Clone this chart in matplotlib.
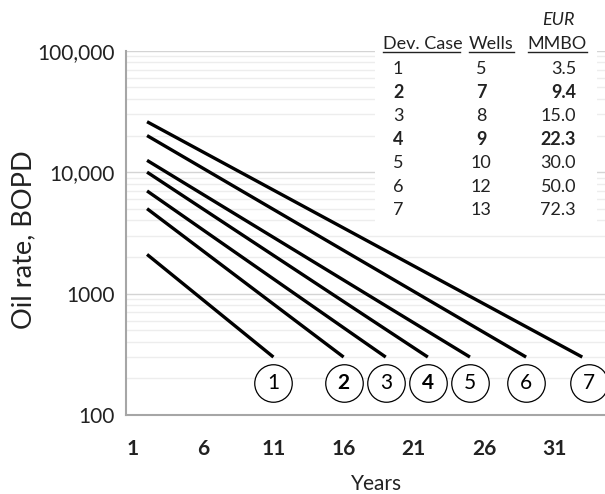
import matplotlib
matplotlib.use("Agg")
import matplotlib.pyplot as plt
from matplotlib.ticker import FixedLocator, NullFormatter, LogLocator
from matplotlib.patches import Rectangle

plt.rcParams['font.family'] = ['Lato', 'DejaVu Sans']

# Development cases: decline lines from first-year rate down to economic limit
cases = ["1", "2", "3", "4", "5", "6", "7"]
start_year = [2, 2, 2, 2, 2, 2, 2]
start_rate = [2100, 5000, 7000, 10000, 12500, 20000, 26000]
end_year = [11, 16, 19, 22, 25, 29, 33]
end_rate = [300, 300, 300, 300, 300, 300, 300]
label_year = [11, 16, 19, 22, 25, 29, 33.5]
label_rate = 185
bold_cases = ["2", "4"]

wells = [5, 7, 8, 9, 10, 12, 13]
eur_mmbo = [3.5, 9.4, 15.0, 22.3, 30.0, 50.0, 72.3]

x_ticks = [1, 6, 11, 16, 21, 26, 31]
y_ticks = [100, 1000, 10000, 100000]
y_tick_labels = ["100", "1000", "10,000", "100,000"]

W, H = 605, 494
fig = plt.figure(figsize=(W / 100, H / 100), dpi=100)
left_px, right_px, top_px, bottom_px = 126, 631.4, 50.7, 415
ax = fig.add_axes([left_px / W, 1 - bottom_px / H,
                   (right_px - left_px) / W, (bottom_px - top_px) / H])


def fx(px):
    return px / W


def fy(py):
    return 1 - py / H


ax.set_yscale('log')
ax.set_ylim(100, 100000)
ax.set_xlim(0.5, 36.5)

# gridlines
ax.set_axisbelow(True)
ax.yaxis.set_major_locator(FixedLocator(y_ticks))
ax.yaxis.set_minor_locator(LogLocator(base=10, subs=range(2, 10)))
ax.yaxis.set_minor_formatter(NullFormatter())
ax.set_yticklabels(y_tick_labels)
ax.grid(True, which='major', axis='y', color='#d4d4d4', lw=1.0)
ax.grid(True, which='minor', axis='y', color='#ededed', lw=1.0)

ax.set_xticks(x_ticks)
ax.set_xticklabels([str(t) for t in x_ticks], fontweight='bold')

ax.tick_params(axis='both', which='both', length=0)
ax.tick_params(axis='y', labelsize=15, pad=8, colors='#222222')
ax.tick_params(axis='x', labelsize=15, pad=17, colors='#222222')

for s in ['top', 'right']:
    ax.spines[s].set_visible(False)
for s in ['left', 'bottom']:
    ax.spines[s].set_color('#a6a6a6')
    ax.spines[s].set_linewidth(1.5)

# axis titles
fig.text(fx(24), fy(240), "Oil rate, BOPD", rotation=90, ha='center', va='center',
         fontsize=19.5, color='#222222')
fig.text(fx(377), fy(484), "Years", ha='center', va='center', fontsize=15, color='#222222')

# decline lines
for x0, y0, x1, y1 in zip(start_year, start_rate, end_year, end_rate):
    ax.plot([x0, x1], [y0, y1], color='black', lw=2.4, solid_capstyle='butt', zorder=3)

# circled case labels
for c, lx in zip(cases, label_year):
    ax.scatter([lx], [label_rate], s=27 ** 2, facecolor='white', edgecolor='black',
               linewidths=0.9, zorder=4, clip_on=False)
    ax.text(lx, label_rate, c, ha='center', va='center', fontsize=15,
            fontweight='bold' if c in bold_cases else 'normal', zorder=5)

# summary table, on a white panel
fig.patches.append(Rectangle((fx(375), fy(226)), fx(597) - fx(375), fy(38) - fy(226),
                             transform=fig.transFigure, facecolor='white',
                             edgecolor='none', zorder=1))

tcol = '#222222'
fs = 13
fig.text(fx(558), fy(20), "EUR", ha='center', va='center', fontsize=fs,
         style='italic', color=tcol)
fig.text(fx(383), fy(44), "Dev. Case", ha='left', va='center', fontsize=fs, color=tcol)
fig.text(fx(491), fy(44), "Wells", ha='center', va='center', fontsize=fs, color=tcol)
fig.text(fx(587), fy(44), "MMBO", ha='right', va='center', fontsize=fs, color=tcol)
for x0, x1 in [(383, 460), (469, 514), (528, 587)]:
    fig.lines.append(plt.Line2D([fx(x0), fx(x1)], [fy(52), fy(52)],
                                transform=fig.transFigure, color=tcol, lw=1.0))

row_y0, row_dy = 68.5, 23.6
for i, (c, w, e) in enumerate(zip(cases, wells, eur_mmbo)):
    y = fy(row_y0 + i * row_dy)
    wt = 'bold' if c in bold_cases else 'normal'
    fig.text(fx(393), y, c, ha='left', va='center', fontsize=fs, fontweight=wt, color=tcol)
    fig.text(fx(481), y, str(w), ha='center', va='center', fontsize=fs, fontweight=wt, color=tcol)
    fig.text(fx(576), y, f"{e:.1f}", ha='right', va='center', fontsize=fs, fontweight=wt, color=tcol)

fig.savefig("out.png", dpi=100)
